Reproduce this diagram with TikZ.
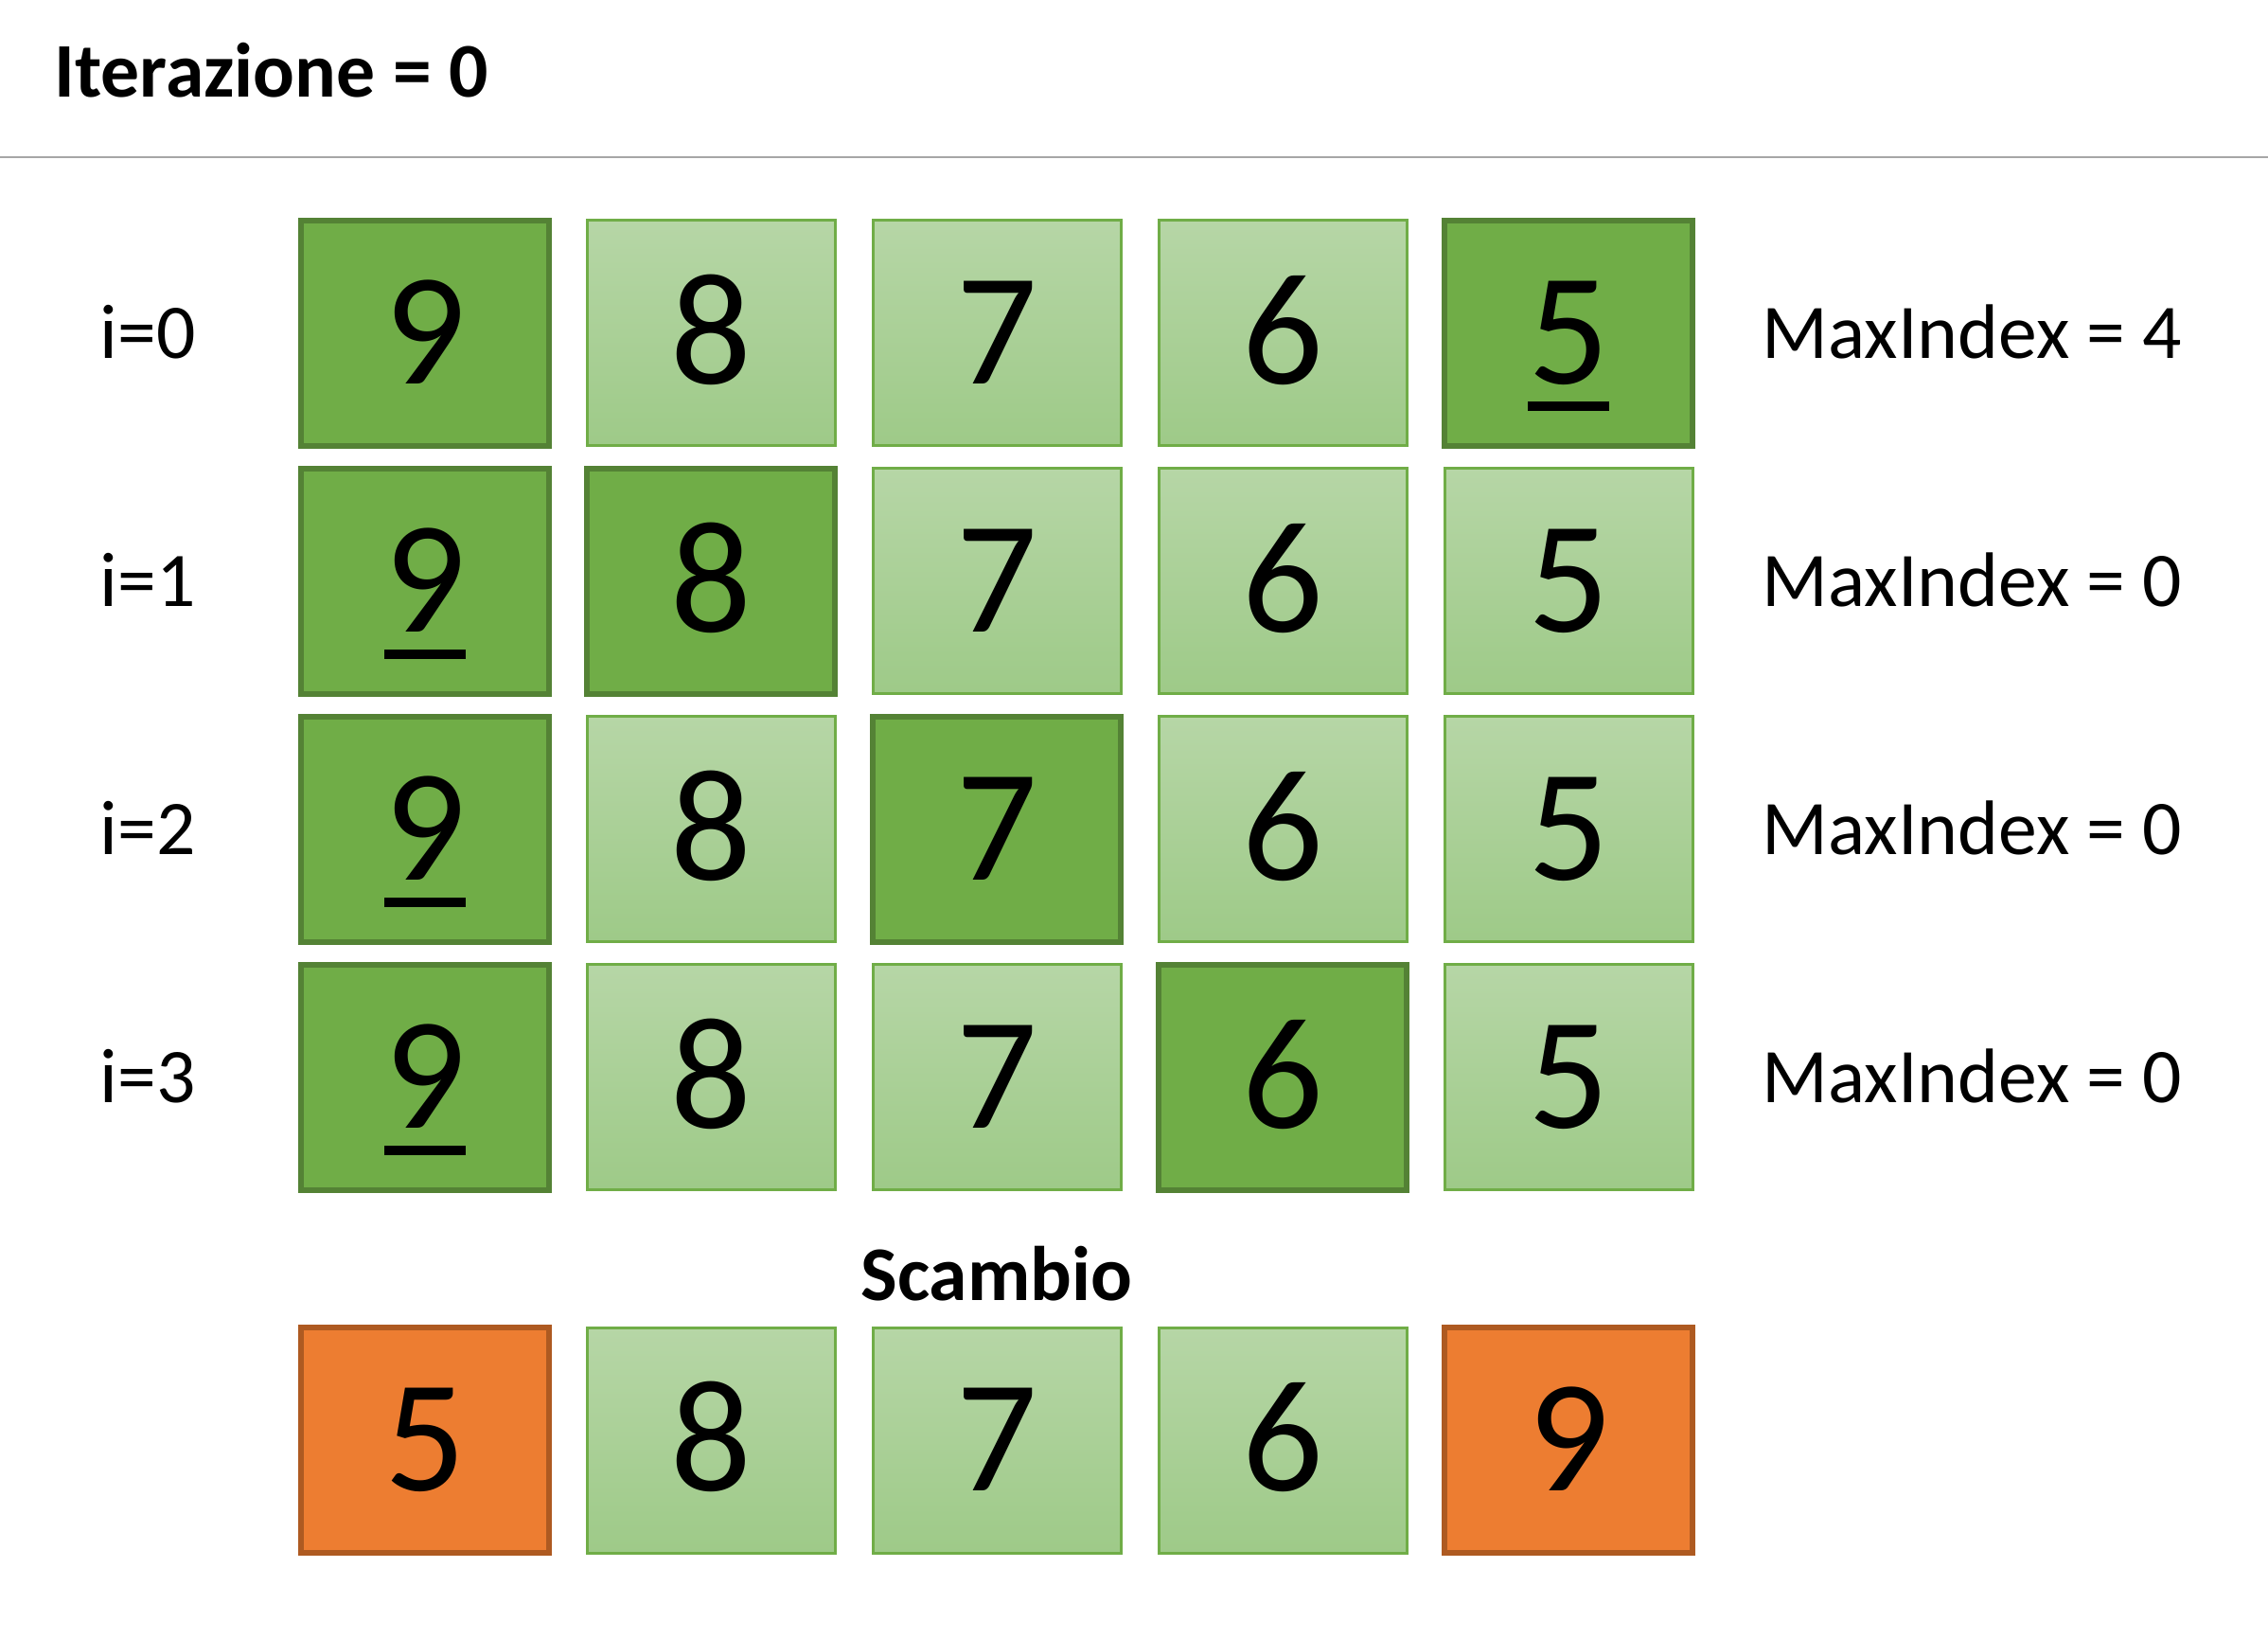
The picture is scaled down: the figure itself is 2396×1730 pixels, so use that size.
\documentclass[tikz,border=0pt]{standalone}
\usepackage{fontspec}
\setmainfont{Carlito}
\usetikzlibrary{positioning}
\definecolor{verdechiaroalto}{RGB}{182,214,166}
\definecolor{verdechiarobasso}{RGB}{158,202,136}
\definecolor{verdebordo}{RGB}{112,173,71}
\definecolor{verdescuro}{RGB}{112,173,71}
\definecolor{verdescurobordo}{RGB}{84,130,53}
\definecolor{arancio}{RGB}{237,125,49}
\definecolor{aranciobordo}{RGB}{174,90,33}
\definecolor{grigiolinea}{RGB}{166,166,166}
\newcommand\sottolinea[1]{\setbox0\hbox{#1}\rlap{\rule[-0.17em]{\wd0}{0.057em}}\box0}
\tikzset{
	cellabase/.style={
		minimum width=78.6pt,
		minimum height=71.4pt,
		inner sep=0pt,
		text height=32.1pt,
		text depth=0pt,
		font=\fontsize{50.7}{60}\selectfont
	},
	cella/.style={
		cellabase,
		top color=verdechiaroalto,
		bottom color=verdechiarobasso,
		draw=verdebordo,
		line width=0.9pt
	},
	cellamax/.style={
		cellabase,
		fill=verdescuro,
		draw=verdescurobordo,
		line width=1.8pt
	},
	cellascambio/.style={
		cellabase,
		fill=arancio,
		draw=aranciobordo,
		line width=1.8pt
	},
	titolo/.style={
		font=\fontsize{24.5}{30}\selectfont\bfseries,
		inner sep=0pt
	},
	etichetta/.style={
		font=\fontsize{24.5}{30}\selectfont,
		inner sep=0pt
	},
	separatore/.style={
		draw=grigiolinea,
		line width=0.7pt
	}
}
\begin{document}
\begin{tikzpicture}[x=0.3pt, y=-0.3pt]
	\useasboundingbox (0,0) rectangle (2396,1730);
	\node[titolo, anchor=base west] (titolo) at (57,102) {Iterazione = 0};
	\draw[separatore] (0,166) -- (2396,166);
	% righe delle iterazioni
	\foreach \riga/\maxidx in {0/4,1/0,2/0,3/0} {
		\node[etichetta, anchor=base west] (indice\riga) at (105,{378+262*\riga}) {i=\riga};
		\node[etichetta, anchor=base west] (max\riga) at (1861,{378+262*\riga}) {MaxIndex = \maxidx};
		\foreach \col/\val in {0/9,1/8,2/7,3/6,4/5} {
			\ifnum\col=\riga \def\stile{cellamax}\else
				\ifnum\col=\maxidx \def\stile{cellamax}\else \def\stile{cella}\fi
			\fi
			\ifnum\col=\maxidx \def\testo{\sottolinea{\val}}\else \def\testo{\val}\fi
			\node[\stile] (cella\riga\col) at ({449+302*\col},{351.5+262*\riga}) {\testo};
		}
	}
	% scambio
	\node[titolo, anchor=base] (scambio) at (1053,1373) {Scambio};
	\foreach \col/\val in {0/5,1/8,2/7,3/6,4/9} {
		\ifnum\col=0 \def\stile{cellascambio}\else
			\ifnum\col=4 \def\stile{cellascambio}\else \def\stile{cella}\fi
		\fi
		\node[\stile] (scambio\col) at ({449+302*\col},1521) {\val};
	}
\end{tikzpicture}
\end{document}
